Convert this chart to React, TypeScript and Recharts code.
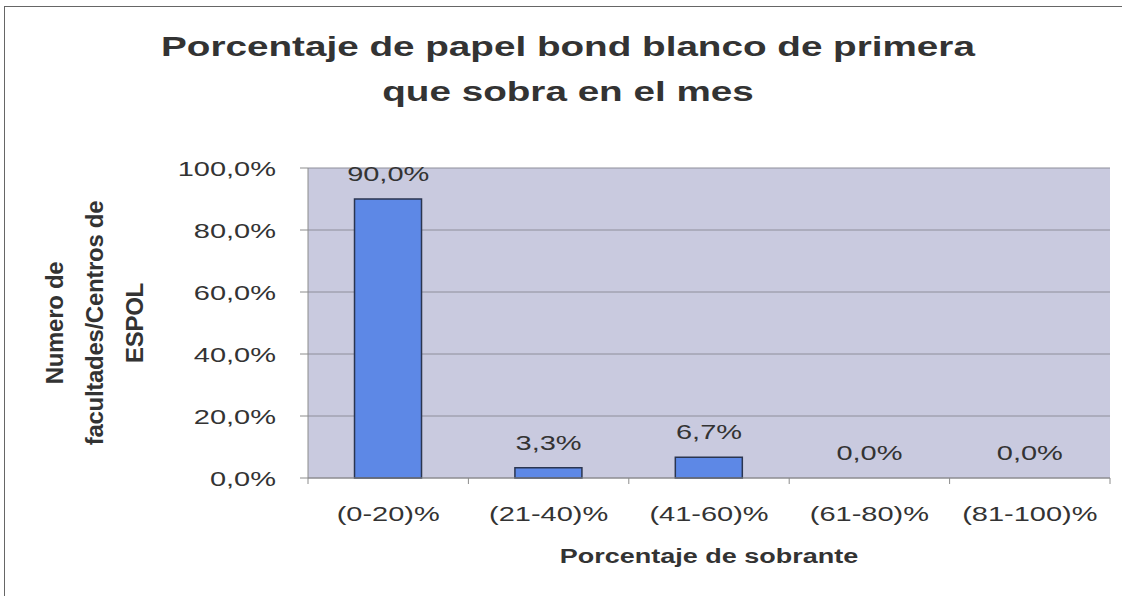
import { ComposedChart, Bar, Line, XAxis, YAxis, CartesianGrid, LabelList } from "recharts";

const categories = ["(0-20)%", "(21-40)%", "(41-60)%", "(61-80)%", "(81-100)%"];
const shares = [90.0, 3.3, 6.7, 0.0, 0.0];
const yTicks = [0, 20, 40, 60, 80, 100];

const data = categories.map((c, i) => ({ cat: c, value: shares[i] }));

const fmt = (v: number) => v.toFixed(1).replace(".", ",") + "%";
const FONT = "'Liberation Sans', Arial, sans-serif";
// the scanned original is stretched sideways, so text is widened to match
const SX = 1.38;

function CatTick(props: any) {
  const { x, y, payload, index, width, visibleTicksCount } = props;
  const band = width / visibleTicksCount;
  return (
    <g>
      <line x1={x - band / 2} x2={x - band / 2} y1={y - 8} y2={y - 2} stroke="#8c8c8c" />
      {index === visibleTicksCount - 1 && (
        <line x1={x + band / 2} x2={x + band / 2} y1={y - 8} y2={y - 2} stroke="#8c8c8c" />
      )}
      <text
        transform={`translate(${x},${y + 35}) scale(${SX},1)`}
        textAnchor="middle"
        fontSize={21}
        fill="#333"
        fontFamily={FONT}
      >
        {payload.value}
      </text>
    </g>
  );
}

function PctTick(props: any) {
  const { x, y, payload } = props;
  return (
    <text
      transform={`translate(${x - 22},${y + 8}) scale(${SX},1)`}
      textAnchor="end"
      fontSize={21}
      fill="#333"
      fontFamily={FONT}
    >
      {fmt(payload.value)}
    </text>
  );
}

function ValueLabel(props: any) {
  const { x, y, value } = props;
  return (
    <text
      transform={`translate(${x},${y - 18}) scale(${SX},1)`}
      textAnchor="middle"
      fontSize={21}
      fill="#333"
      fontFamily={FONT}
    >
      {fmt(Number(value))}
    </text>
  );
}

export default function App() {
  return (
    <div
      style={{
        position: "absolute",
        left: 0,
        top: 0,
        width: 1122,
        height: 596,
        background: "#fff",
        fontFamily: FONT,
        overflow: "hidden",
      }}
    >
      <div
        style={{
          position: "absolute",
          left: 4,
          top: 6,
          width: 1118,
          height: 590,
          borderLeft: "1.5px solid #666",
          borderTop: "1.5px solid #666",
        }}
      />
      <div
        style={{
          position: "absolute",
          left: 0,
          top: 24,
          width: 1136,
          textAlign: "center",
          fontSize: 28,
          fontWeight: "bold",
          lineHeight: "45px",
          color: "#333",
          transform: `scaleX(${SX})`,
          transformOrigin: "568px 0",
        }}
      >
        Porcentaje de papel bond blanco de primera
        <br />
        que sobra en el mes
      </div>
      <div
        style={{
          position: "absolute",
          left: 95,
          top: 323,
          width: 0,
          height: 0,
        }}
      >
        <div
          style={{
            position: "absolute",
            left: -200,
            top: -60,
            width: 400,
            textAlign: "center",
            transform: "rotate(-90deg)",
            transformOrigin: "200px 60px",
            fontWeight: "bold",
            fontSize: 24,
            lineHeight: "40px",
            letterSpacing: -0.3,
            color: "#333",
          }}
        >
          Numero de
          <br />
          facultades/Centros de
          <br />
          ESPOL
        </div>
      </div>
      <div
        style={{
          position: "absolute",
          left: 0,
          top: 545,
          width: 1418,
          textAlign: "center",
          fontSize: 20,
          fontWeight: "bold",
          color: "#333",
          transform: "scaleX(1.35)",
          transformOrigin: "709px 0",
        }}
      >
        Porcentaje de sobrante
      </div>
      <div style={{ position: "absolute", left: 0, top: 0 }}>
        <ComposedChart
          width={1122}
          height={596}
          data={data}
          margin={{ top: 168, right: 12, bottom: 0, left: 0 }}
          barCategoryGap="29%"
        >
          <CartesianGrid
            vertical={false}
            fill="#c9cadf"
            fillOpacity={1}
            stroke="#8e8e9a"
          />
          <XAxis
            dataKey="cat"
            height={118}
            axisLine={{ stroke: "#8c8c8c" }}
            tickLine={false}
            tick={<CatTick />}
            interval={0}
          />
          <YAxis
            width={308}
            domain={[0, 100]}
            ticks={yTicks}
            axisLine={{ stroke: "#8c8c8c" }}
            tickLine={{ stroke: "#8c8c8c" }}
            tickSize={8}
            tick={<PctTick />}
          />
          <YAxis
            yAxisId="r"
            orientation="right"
            width={0}
            domain={[0, 100]}
            tick={false}
            tickLine={false}
            axisLine={{ stroke: "#9a9aa6" }}
          />
          <Bar
            dataKey="value"
            fill="#5d88e6"
            stroke="#2a3550"
            strokeWidth={1.5}
            isAnimationActive={false}
          />
          <Line
            dataKey="value"
            stroke="none"
            dot={false}
            activeDot={false}
            legendType="none"
            isAnimationActive={false}
          >
            <LabelList dataKey="value" content={<ValueLabel />} />
          </Line>
        </ComposedChart>
      </div>
    </div>
  );
}
